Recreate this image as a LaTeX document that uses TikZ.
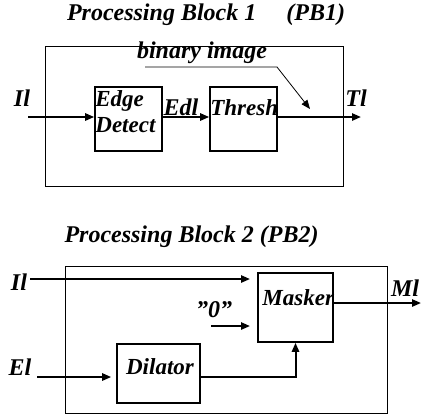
\documentclass[tikz,border=0pt]{standalone}
\usepackage{fontspec}
\setmainfont{Liberation Serif}
\usetikzlibrary{arrows.meta}
\begin{document}
\begin{tikzpicture}[x=0.5pt, y=-0.5pt,
  every node/.style={font=\fontsize{12}{13.5}\selectfont\bfseries\itshape, inner sep=0pt},
  boxtext/.style={font=\fontsize{11.5}{13}\selectfont\bfseries\itshape},
  outer/.style={draw, line width=0.4pt, inner sep=0pt},
  blk/.style={draw, line width=0.8pt, inner sep=0pt},
  sig/.style={line width=1pt, -{Triangle[length=4.5pt,width=3.6pt]}},
  thin sig/.style={line width=0.4pt, -{Triangle[length=4.5pt,width=3.6pt]}}]
  \useasboundingbox (0,0) rectangle (421,414);

  % Blocco 1
  \node (title1) at (206,15) {Processing Block 1\quad\ (PB1)};
  \node[outer, minimum width=149pt, minimum height=70pt] (pb1) at (194,116) {};
  \node[blk, minimum width=33.5pt, minimum height=32pt] (edge) at (128.5,119) {};
  \node[blk, minimum width=33.5pt, minimum height=32pt] (thresh) at (243.5,119) {};
  \node[boxtext, anchor=north west, align=left] (edgetxt) at (95,90) {Edge\\Detect};
  \node[boxtext, anchor=west] (threshtxt) at (210,108) {Thresh};
  \node (binary) at (202,53) {binary image};
  \node (il1) at (22,98) {Il};
  \node (edl) at (181,107) {Edl};
  \node (tl) at (356,98) {Tl};

  \coordinate (in1) at (28,117);
  \coordinate (out1) at (361,117);
  \coordinate (bin0) at (145,67);
  \coordinate (bin1) at (277,67);
  \coordinate (bin2) at (310,109);

  \draw[sig] (in1) -- (edge.west |- in1);
  \draw[sig] (edge.east |- in1) -- (thresh.west |- in1);
  \draw[sig] (thresh.east |- in1) -- (out1);
  \draw[thin sig] (bin0) -- (bin1) -- (bin2);

  % Blocco 2
  \node (title2) at (191.5,237) {Processing Block 2 (PB2)};
  \node[outer, minimum width=161pt, minimum height=73.5pt] (pb2) at (226,339.5) {};
  \node[blk, minimum width=37.5pt, minimum height=34.5pt] (masker) at (295.5,307.5) {};
  \node[blk, minimum width=41.5pt, minimum height=29.5pt] (dilator) at (158.5,373.5) {};
  \node[boxtext, anchor=west] (maskertxt) at (262,298) {Masker};
  \node[boxtext] (dilatortxt) at (160,367) {Dilator};
  \node (il2) at (19,282) {Il};
  \node (zero) at (214,310) {\symbol{34}0\symbol{34}};
  \node (ml) at (405,288) {Ml};
  \node (el) at (20,367) {El};

  \coordinate (in2) at (30,279);
  \coordinate (in2end) at (250,279);
  \coordinate (zero0) at (211,326);
  \coordinate (zero1) at (250,326);
  \coordinate (out2) at (421,303);
  \coordinate (elin) at (37,377);

  \draw[sig] (in2) -- (in2end);
  \draw[sig] (zero0) -- (zero1);
  \draw[sig] (masker.east |- out2) -- (out2);
  \draw[sig, shorten >=2.5pt] (elin) -- (dilator.west |- elin);
  \draw[sig] (dilator.east |- elin) -| (masker.south);
\end{tikzpicture}
\end{document}
